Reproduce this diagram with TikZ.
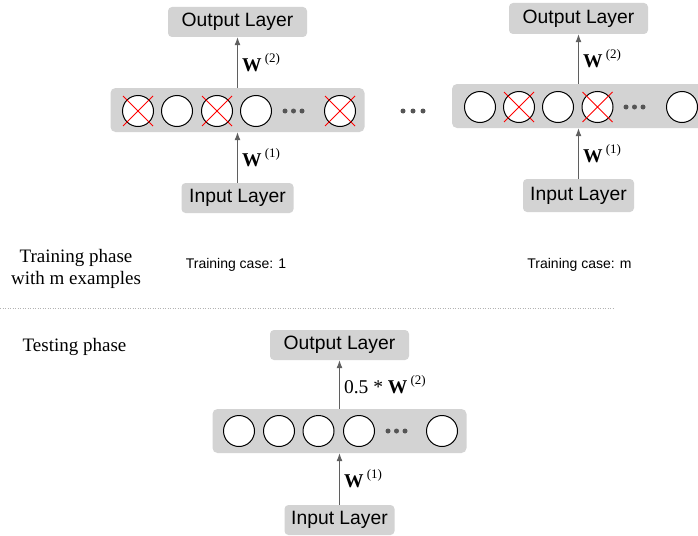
\documentclass[tikz,border=0pt]{standalone}
\usepackage{fontspec}
\setmainfont{Liberation Serif}
\newfontfamily\arialfont{Liberation Sans}
\usetikzlibrary{arrows.meta}
\definecolor{boxgray}{RGB}{211,211,211}
\definecolor{arrowgray}{RGB}{95,95,95}
\definecolor{dotgray}{RGB}{85,85,85}
\newcommand{\wsup}[1]{\textbf{W}\,\raisebox{0.45em}{\fontsize{13}{13}\selectfont(#1)}}

\begin{document}
\begin{tikzpicture}[x=1pt,y=-1pt]
	\tikzstyle{layer}=[rectangle, rounded corners=4pt, fill=boxgray, inner sep=0pt, minimum height=30pt, font=\arialfont\fontsize{19.3}{19}\selectfont]
	\tikzstyle{hidden}=[rectangle, rounded corners=5pt, fill=boxgray, inner sep=0pt, minimum width=254pt, minimum height=44pt]
	\tikzstyle{unit}=[circle, draw, fill=white, line width=1pt, minimum size=31pt, inner sep=0pt]
	\tikzstyle{dot}=[circle, fill=dotgray, minimum size=5pt, inner sep=0pt]
	\tikzstyle{conn}=[-{Latex[length=8pt,width=6pt]}, draw=arrowgray, fill=arrowgray, line width=1pt]
	\tikzstyle{wlabel}=[right, midway, inner sep=4pt, font=\fontsize{19.5}{19}\selectfont]
	\tikzstyle{drop}=[red, line width=1pt]
	\tikzstyle{phase}=[align=center, font=\fontsize{19}{22}\selectfont]
	\tikzstyle{case}=[font=\arialfont\fontsize{14}{14}\selectfont]
	\useasboundingbox (0,0) rectangle (698,535);
	\clip (0,0) rectangle (698,535);
	% training case 1
	\draw (237.5,22) node (outA) [layer, minimum width=139pt] {Output Layer};
	\draw (237.5,110) node (hidA) [hidden] {};
	\draw (237.5,198) node (inA) [layer, minimum width=112pt] {Input Layer};
	\draw (138,111) node (a1) [unit] {};
	\draw (177,111) node (a2) [unit] {};
	\draw (217,111) node (a3) [unit] {};
	\draw (256,111) node (a4) [unit] {};
	\draw (340,111) node (a5) [unit] {};
	\draw (285,111) node (ad1) [dot] {};
	\draw (293.5,111) node (ad2) [dot] {};
	\draw (302,111) node (ad3) [dot] {};
	\draw[drop] (a1.center) +(-15,-15) -- +(15,15) +(-15,15) -- +(15,-15);
	\draw[drop] (a3.center) +(-15,-15) -- +(15,15) +(-15,15) -- +(15,-15);
	\draw[drop] (a5.center) +(-15,-15) -- +(15,15) +(-15,15) -- +(15,-15);
	\draw[conn] (inA) -- (hidA) node[wlabel] {\wsup{1}};
	\draw[conn] (hidA) -- (outA) node[wlabel] {\wsup{2}};
	% dots between the cases
	\draw (403,111) node (m1) [dot] {};
	\draw (413,111) node (m2) [dot] {};
	\draw (423,111) node (m3) [dot] {};
	% training case m
	\draw (578.5,18.5) node (outB) [layer, minimum width=139pt, minimum height=31pt] {Output Layer};
	\draw (579,106) node (hidB) [hidden] {};
	\draw (578.5,195.5) node (inB) [layer, minimum width=111pt, minimum height=33pt] {Input Layer};
	\draw (480,107) node (b1) [unit] {};
	\draw (519,107) node (b2) [unit] {};
	\draw (558,107) node (b3) [unit] {};
	\draw (597.5,107) node (b4) [unit] {};
	\draw (682,107) node (b5) [unit] {};
	\draw (626,107) node (bd1) [dot] {};
	\draw (634.5,107) node (bd2) [dot] {};
	\draw (643,107) node (bd3) [dot] {};
	\draw[drop] (b2.center) +(-15,-15) -- +(15,15) +(-15,15) -- +(15,-15);
	\draw[drop] (b4.center) +(-15,-15) -- +(15,15) +(-15,15) -- +(15,-15);
	\draw[conn] (inB) -- (hidB.south -| inB) node[wlabel] {\wsup{1}};
	\draw[conn] (hidB.north -| outB) -- (outB) node[wlabel] {\wsup{2}};
	% phase texts
	\draw (76,269) node (train) [phase] {Training phase\\with m examples};
	\draw (236,265) node (caseA) [case] {Training case: 1};
	\draw (579.5,265) node (caseB) [case] {Training case: m};
	\draw (0,308) coordinate (sepL);
	\draw (615,308) coordinate (sepR);
	\draw[gray!60, line width=1pt, dash pattern=on 1pt off 1.5pt] (sepL) -- (sepR);
	\draw (74.5,347) node (test) [phase] {Testing phase};
	% testing
	\draw (339.5,345) node (outC) [layer, minimum width=139pt] {Output Layer};
	\draw (339.5,431) node (hidC) [hidden] {};
	\draw (339.5,520) node (inC) [layer, minimum width=110pt] {Input Layer};
	\draw (239,431) node (c1) [unit] {};
	\draw (279,431) node (c2) [unit] {};
	\draw (318.5,431) node (c3) [unit] {};
	\draw (359,431) node (c4) [unit] {};
	\draw (442,431) node (c5) [unit] {};
	\draw (388,431) node (cd1) [dot] {};
	\draw (396.5,431) node (cd2) [dot] {};
	\draw (405,431) node (cd3) [dot] {};
	\draw[conn] (inC) -- (hidC) node[wlabel] {\wsup{1}};
	\draw[conn] (hidC) -- (outC) node[wlabel] {0.5 * \wsup{2}};
\end{tikzpicture}
\end{document}
